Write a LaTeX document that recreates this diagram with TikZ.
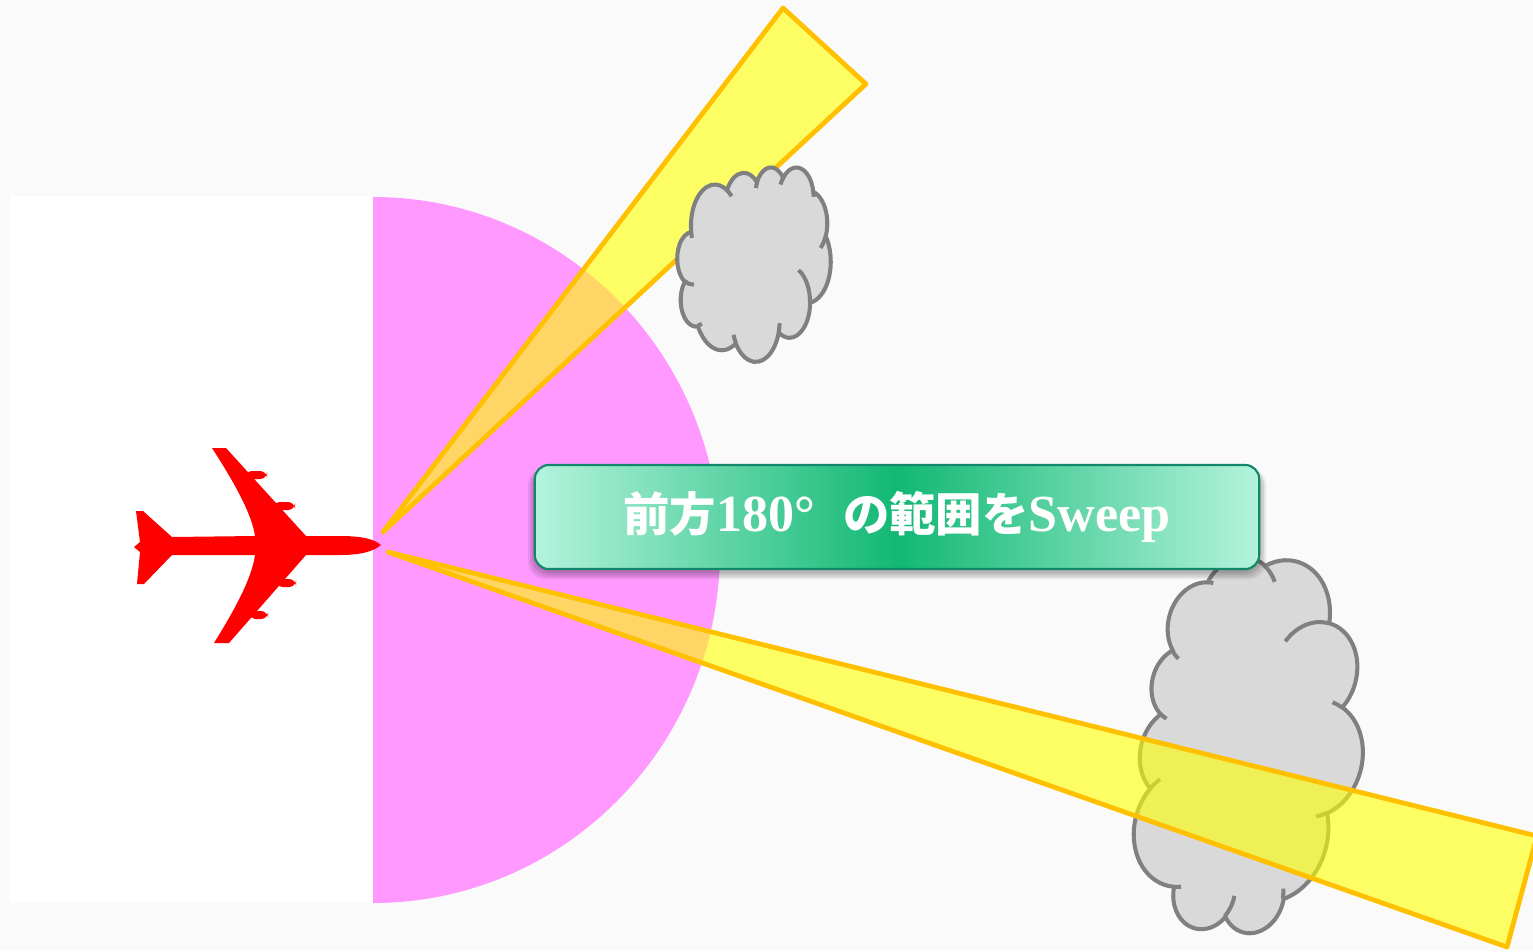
\documentclass[tikz,border=0pt]{standalone}
\usepackage{fontspec}
\setmainfont{Liberation Serif}
\newfontfamily\jpfont{Noto Sans CJK JP}

\definecolor{bggray}{HTML}{FAFAFA}
\definecolor{sweeppink}{HTML}{FF99FF}
\definecolor{beamyellow}{HTML}{FFFF00}
\definecolor{beamedge}{HTML}{FFC000}
\definecolor{cloudfill}{HTML}{D9D9D9}
\definecolor{cloudedge}{HTML}{808080}
\definecolor{boxdark}{HTML}{12B874}
\definecolor{boxlight}{HTML}{B4F3DD}
\definecolor{boxedge}{HTML}{13876A}
\definecolor{planered}{HTML}{FF0000}

\tikzset{
  beam/.style={fill=beamyellow, fill opacity=0.6, draw=beamedge, line width=1.35pt, line join=round},
  cloudbody/.style={fill=cloudfill, draw=cloudedge, line width=1.15pt},
  cloudcrease/.style={draw=cloudedge, line width=1.15pt},
  caption/.style={rounded corners=4pt, draw=boxedge, line width=0.6pt,
    left color=boxlight, right color=boxlight, middle color=boxdark,
    minimum width=7.24cm, minimum height=1.04cm, inner sep=0pt,
    text=white, font=\bfseries}
}

% elliptic arc given by its on-screen start angle and sweep
\newcommand{\puff}[4]{arc[start angle={atan2(#1*sin(#3),#2*cos(#3))},
  delta angle={mod(atan2(#1*sin(#3+#4),#2*cos(#3+#4))-atan2(#1*sin(#3),#2*cos(#3))+720,360)},
  x radius=#1, y radius=#2]}

% cloud outline, centred at the origin, about 43 units across
\newcommand{\cloudoutline}{(-17.700,-7.230)
  \puff{6.753}{9.190}{-190.487}{123.781}
  \puff{5.333}{7.267}{-144.102}{89.945}
  \puff{4.365}{5.945}{-145.808}{99.723}
  \puff{4.857}{6.595}{-130.986}{117.242}
  \puff{5.333}{7.273}{-78.709}{109.027}
  \puff{6.775}{9.220}{-46.267}{130.269}
  \puff{5.785}{7.867}{0.625}{114.033}
  \puff{6.752}{9.215}{22.452}{115.173}
  \puff{7.720}{10.543}{66.243}{75.711}
  \puff{4.360}{5.918}{-274.942}{146.736}
  \puff{4.345}{5.945}{-246.829}{152.519} -- cycle}

% the short inner lines between the puffs
\newcommand{\cloudcreases}{%
  (-16.907,4.577) \puff{4.345}{5.945}{86.742}{26.430}
  (-14.672,13.299) \puff{4.360}{5.918}{73.610}{11.447}
  (-5.122,17.490) \puff{6.752}{9.215}{137.624}{14.081}
  (7.227,13.151) \puff{6.752}{9.215}{6.453}{15.998}
  (12.529,1.354) \puff{5.785}{7.867}{-70.292}{70.917}
  (20.198,-6.246) \puff{5.333}{7.273}{30.318}{27.752}
  (16.724,-16.174) \puff{4.857}{6.595}{-13.744}{14.859}
  (7.478,-17.648) \puff{4.857}{6.595}{-149.181}{18.195}
  (0.541,-16.880) \puff{4.365}{5.945}{-163.494}{17.686}
  (-7.600,-16.408) \puff{6.753}{9.190}{-66.707}{12.319}
  (-17.473,-5.811) \puff{6.753}{9.190}{157.654}{11.858}}

\begin{document}
\begin{tikzpicture}[x=0.01cm, y=-0.01cm]
  \useasboundingbox (0,0) rectangle (1533,951);
  \fill[bggray] (0,0) rectangle (1533,951);
  \fill[white] (10,196) rectangle (373,903);

  % forward half of the sweep
  \begin{scope}
    \clip (373,0) rectangle (1533,951);
    \fill[sweeppink] (373,550) ellipse[x radius=347, y radius=353];
  \end{scope}

  % upper beam, cloud in front of it
  \draw[beam] (383,532) -- (783,8) -- (866,84) -- cycle;
  \begin{scope}[shift={(754,264)}, xscale=3.55, yscale=4.5]
    \filldraw[cloudbody] \cloudoutline;
    \draw[cloudcrease] \cloudcreases;
  \end{scope}

  % lower cloud, beam in front of it
  \begin{scope}[shift={(1250,746)}, rotate=75, xscale=8.8, yscale=5.2]
    \filldraw[cloudbody] \cloudoutline;
    \draw[cloudcrease] \cloudcreases;
  \end{scope}
  \draw[beam] (388,552) -- (1537,836) -- (1507,947) -- cycle;

  % aircraft
  \fill[planered] (381,545) .. controls (374,539) and (362,536) .. (340,536)
    -- (306,536) -- (226,448) -- (212,448)
    .. controls (236,485) and (252,515) .. (255,536)
    -- (172,537) -- (143,511) -- (136,511) -- (140,542) -- (134,547)
    -- (140,552) -- (137,584) -- (144,584) -- (172,555) -- (255,555)
    .. controls (252,577) and (237,606) .. (214,643) -- (229,643)
    -- (306,555) -- (340,555) .. controls (362,555) and (374,551) .. (381,545) -- cycle;
  \fill[planered, rounded corners=2] (245,471) rectangle (267,479);
  \fill[planered, rounded corners=2] (273,502) rectangle (295,510);
  \fill[planered, rounded corners=2] (276,579) rectangle (296,587);
  \fill[planered, rounded corners=2] (249,611) rectangle (268,619);

  % soft shadow under the caption
  \foreach \s in {1,3,5,7}
    \fill[black, opacity=0.08, rounded corners=5pt] (535-\s,468) rectangle (1259+\s,572+\s);
  \node[caption] (sweep) at (897,517)
    {\fontsize{13.2pt}{15pt}\selectfont{\jpfont 前方}{\fontsize{14.8pt}{15pt}\selectfont 180°}\hspace{0.6em}{\jpfont の範囲を}{\fontsize{14.8pt}{15pt}\selectfont Sweep}};
\end{tikzpicture}
\end{document}
